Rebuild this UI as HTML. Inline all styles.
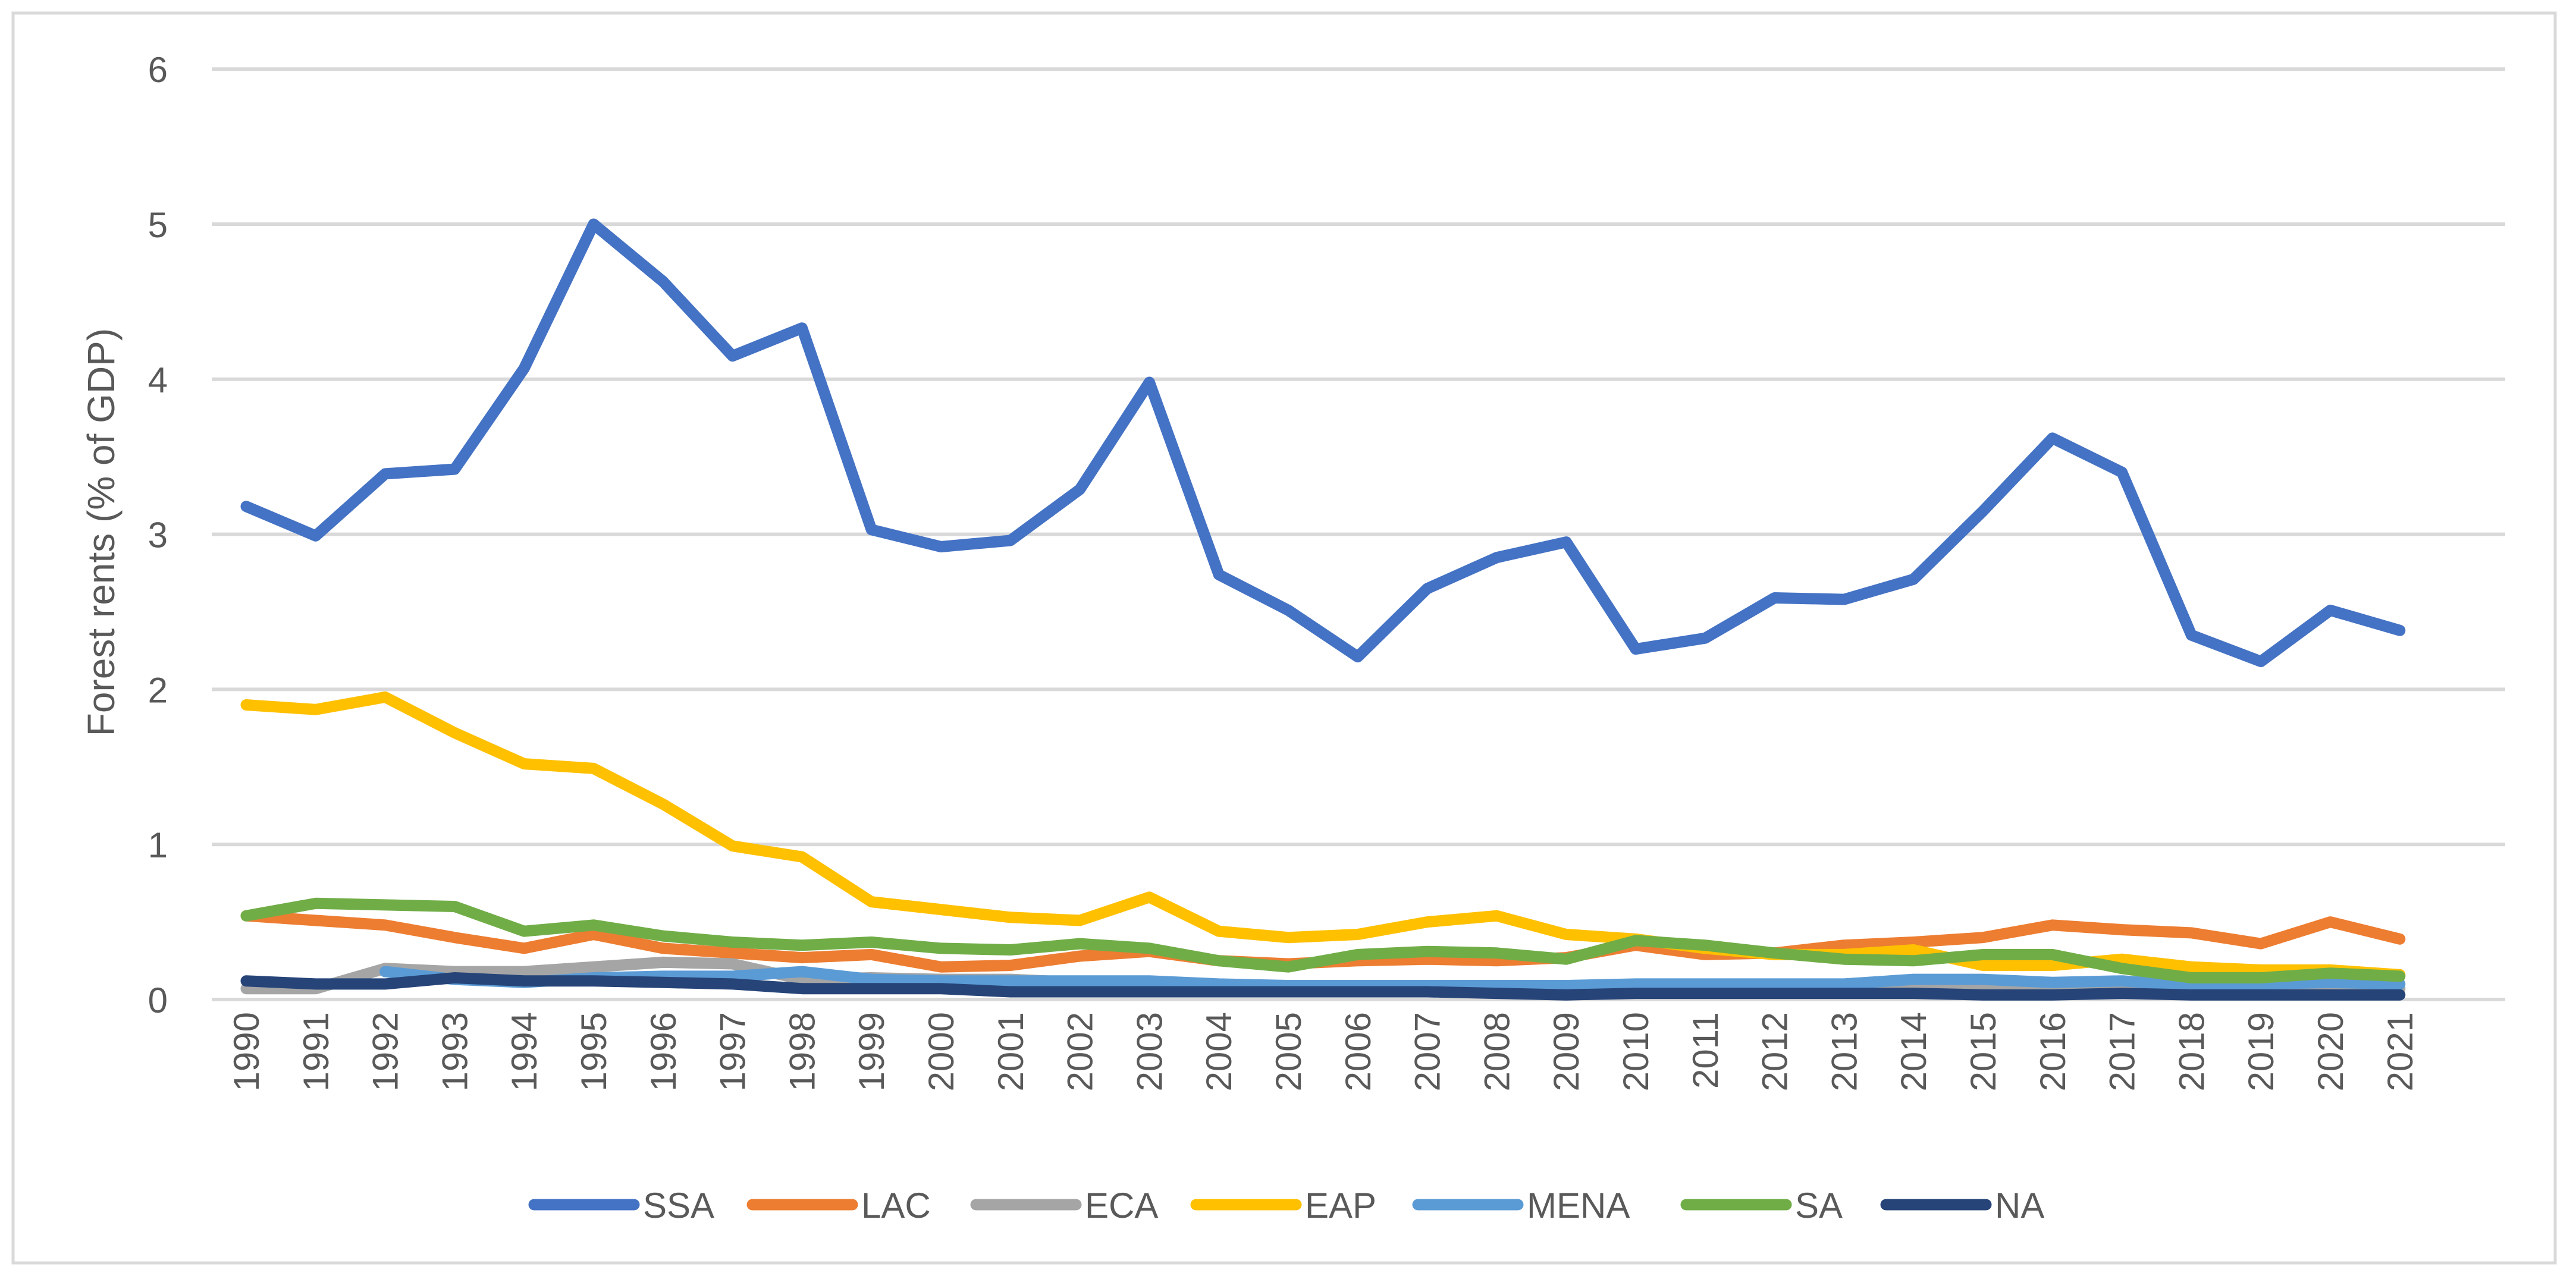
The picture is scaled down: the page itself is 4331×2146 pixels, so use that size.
<!DOCTYPE html>
<html><head><meta charset="utf-8"><style>
html,body{margin:0;padding:0;background:#fff;}
svg{display:block;font-family:"Liberation Sans",sans-serif;}
</style></head><body>
<svg id="chart" width="4331" height="2146" viewBox="0 0 4331 2146" xmlns="http://www.w3.org/2000/svg">
<rect x="22" y="22" width="4274" height="2102" fill="#fff" stroke="#d9d9d9" stroke-width="5"/>
<text transform="translate(192,895) rotate(-90)" text-anchor="middle" font-size="64" fill="#595959">Forest rents (% of GDP)</text>
<g id="grid"></g><g id="yt"></g><g id="xt"></g><g id="lines"></g><g id="legend"></g>
</svg>
<script>
const years=[1990,1991,1992,1993,1994,1995,1996,1997,1998,1999,2000,2001,2002,2003,2004,2005,2006,2007,2008,2009,2010,2011,2012,2013,2014,2015,2016,2017,2018,2019,2020,2021];
const yTicks=[0,1,2,3,4,5,6];
const seriesNames=["SSA","LAC","ECA","EAP","MENA","SA","NA"];
const ssa=[3.18,2.99,3.39,3.42,4.07,5.0,4.63,4.15,4.33,3.03,2.92,2.96,3.29,3.98,2.74,2.51,2.21,2.65,2.85,2.95,2.26,2.33,2.59,2.58,2.71,3.15,3.62,3.40,2.35,2.18,2.51,2.38];
const lac=[0.54,0.51,0.48,0.40,0.33,0.42,0.33,0.30,0.27,0.29,0.21,0.22,0.28,0.31,0.25,0.23,0.25,0.26,0.25,0.27,0.35,0.29,0.30,0.35,0.37,0.40,0.48,0.45,0.43,0.36,0.50,0.39];
const eca=[0.07,0.07,0.20,0.18,0.18,0.21,0.24,0.23,0.13,0.14,0.13,0.13,0.11,0.10,0.09,0.08,0.09,0.09,0.09,0.08,0.08,0.08,0.08,0.08,0.08,0.08,0.08,0.08,0.07,0.07,0.07,0.07];
const eap=[1.9,1.87,1.95,1.72,1.52,1.49,1.26,0.99,0.92,0.63,0.58,0.53,0.51,0.66,0.44,0.40,0.42,0.50,0.54,0.42,0.39,0.33,0.29,0.29,0.32,0.22,0.22,0.26,0.21,0.19,0.19,0.16];
const mena=[null,null,0.18,0.13,0.11,0.14,0.15,0.15,0.18,0.13,0.12,0.12,0.12,0.12,0.10,0.09,0.09,0.09,0.09,0.09,0.10,0.10,0.10,0.10,0.13,0.13,0.11,0.12,0.09,0.10,0.11,0.10];
const sa=[0.54,0.62,0.61,0.60,0.44,0.48,0.41,0.37,0.35,0.37,0.33,0.32,0.36,0.33,0.25,0.21,0.29,0.31,0.30,0.26,0.38,0.35,0.30,0.26,0.25,0.29,0.29,0.20,0.14,0.14,0.17,0.15];
const na=[0.12,0.10,0.10,0.14,0.12,0.12,0.11,0.10,0.07,0.07,0.07,0.05,0.05,0.05,0.05,0.05,0.05,0.05,0.04,0.03,0.04,0.04,0.04,0.04,0.04,0.03,0.03,0.04,0.03,0.03,0.03,0.03];

const colors=["#4472C4","#ED7D31","#A5A5A5","#FFC000","#5B9BD5","#70AD47","#264478"];
const NS="http://www.w3.org/2000/svg";
const X0=414,DX=116.8,Y0=1681,DY=260.8;
const xs=i=>X0+i*DX, ys=v=>Y0-v*DY;
function mk(t,a,p){const e=document.createElementNS(NS,t);for(const k in a)e.setAttribute(k,a[k]);p.appendChild(e);return e;}
const grid=document.getElementById('grid'),yt=document.getElementById('yt'),xt=document.getElementById('xt'),lines=document.getElementById('lines'),leg=document.getElementById('legend');
yTicks.forEach(v=>{
 const l=mk('line',{x1:356,x2:4212,y1:ys(v),y2:ys(v),stroke:'#d9d9d9','stroke-width':6},grid);
 
 
 const t=mk('text',{x:282,y:ys(v)+22,'text-anchor':'end','font-size':60,fill:'#595959'},yt);
 t.textContent=v;
 
 
});
years.forEach((yr,i)=>{
 const t=mk('text',{transform:`translate(${xs(i)+21},1702) rotate(-90)`,'text-anchor':'end','font-size':60,fill:'#595959'},xt);
 t.textContent=yr;
 
 
});
const data=[ssa,lac,eca,eap,mena,sa,na];
data.forEach((arr,si)=>{
 let d='',pen=false;
 arr.forEach((v,i)=>{if(v==null){pen=false;return;}d+=(pen?'L':'M')+xs(i).toFixed(1)+' '+ys(v).toFixed(1)+' ';pen=true;});
 const p=mk('path',{d:d,fill:'none',stroke:colors[si],'stroke-width':19,'stroke-linejoin':'round','stroke-linecap':'round'},lines);
 
 
});
const legX=[898,1265,1641,2011,2384,2835,3171];
seriesNames.forEach((n,i)=>{
 const g=mk('g',{},leg);
 
 
 mk('line',{x1:legX[i],x2:legX[i]+168,y1:2026,y2:2026,stroke:colors[i],'stroke-width':19,'stroke-linecap':'round'},g);
 const t=mk('text',{x:legX[i]+183,y:2048,'font-size':60,fill:'#595959'},g);
 t.textContent=n;
});
</script>
</body></html>
